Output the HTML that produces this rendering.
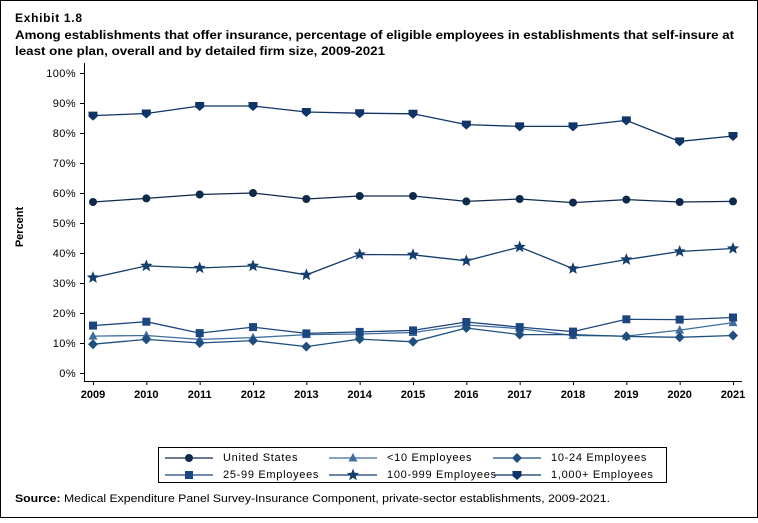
<!DOCTYPE html>
<html><head><meta charset="utf-8"><style>
body{margin:0;background:#fff;font-family:"Liberation Sans",Arial,sans-serif}
svg text{font-family:"Liberation Sans",Arial,sans-serif}
</style></head><body>
<svg id="c" width="758" height="518" xmlns="http://www.w3.org/2000/svg">
<rect x="0.5" y="0.5" width="757" height="517" fill="#fff" stroke="#000"/>
<text x="15" y="22" font-size="12" font-weight="bold" textLength="67">Exhibit 1.8</text>
<text x="15" y="39" font-size="12" font-weight="bold" textLength="719" lengthAdjust="spacingAndGlyphs">Among establishments that offer insurance, percentage of eligible employees in establishments that self-insure at</text>
<text x="15" y="55" font-size="12" font-weight="bold" textLength="370" lengthAdjust="spacingAndGlyphs">least one plan, overall and by detailed firm size, 2009-2021</text>
<text transform="translate(23,227) rotate(-90)" text-anchor="middle" font-size="11" font-weight="bold">Percent</text>
<g id="axes"></g><g id="series"></g>
<rect x="158.5" y="447.5" width="508" height="35" fill="none" stroke="#000"/>
<g id="legend"></g>
<text x="15" y="502" font-size="11" textLength="595" lengthAdjust="spacingAndGlyphs"><tspan font-weight="bold">Source:</tspan> Medical Expenditure Panel Survey-Insurance Component, private-sector establishments, 2009-2021.</text>
</svg>
<script>
const years=[2009,2010,2011,2012,2013,2014,2015,2016,2017,2018,2019,2020,2021];
const yTicks=[0,10,20,30,40,50,60,70,80,90,100];
const usVals=[57.0,58.2,59.5,60.0,58.0,59.0,59.0,57.2,58.0,56.8,57.8,57.0,57.2];
const lt10Vals=[12.3,12.5,11.2,11.8,12.8,13.0,13.5,16.0,14.8,12.5,12.3,14.3,16.8];
const e10to24Vals=[9.6,11.2,10.0,10.8,8.8,11.3,10.4,15.0,12.8,12.8,12.2,11.9,12.5];
const e25to99Vals=[15.8,17.1,13.3,15.3,13.2,13.7,14.2,17.0,15.3,13.8,17.9,17.8,18.5];
const e100to999Vals=[31.8,35.7,35.0,35.7,32.7,39.5,39.4,37.4,42.0,34.8,37.8,40.5,41.5];
const e1000Vals=[85.8,86.5,89.0,89.0,87.0,86.6,86.4,82.8,82.2,82.2,84.2,77.2,79.0];
const seriesNames=["United States","<10 Employees","10-24 Employees","25-99 Employees","100-999 Employees","1,000+ Employees"];
const NS="http://www.w3.org/2000/svg";
const x=v=>93+(v-2009)*(640/12);
const y=v=>373-v*3;
function mk(t,a,p){const e=document.createElementNS(NS,t);for(const k in a)e.setAttribute(k,a[k]);p.appendChild(e);return e;}
const ax=document.getElementById('axes');
let l=mk('line',{x1:84.5,y1:63,x2:84.5,y2:381,stroke:'#000'},ax);


l=mk('line',{x1:84,y1:381.5,x2:742,y2:381.5,stroke:'#000'},ax);


yTicks.forEach(t=>{mk('line',{x1:80,x2:84,y1:y(t)+.5,y2:y(t)+.5,stroke:'#000'},ax);
const tx=mk('text',{x:76,y:y(t)+4,'text-anchor':'end','font-size':11,'letter-spacing':0.4},ax);tx.textContent=t+'%';

});
years.forEach(yr=>{mk('line',{x1:x(yr)+.5,x2:x(yr)+.5,y1:381,y2:385,stroke:'#000'},ax);
const tx=mk('text',{x:x(yr),y:398,'text-anchor':'middle','font-size':11,'font-weight':'bold'},ax);tx.textContent=yr;

});
function marker(type,cx,cy,col,p){
 if(type==='circle')return mk('circle',{cx,cy,r:4,fill:col},p);
 if(type==='square')return mk('rect',{x:cx-4,y:cy-4,width:8,height:8,fill:col},p);
 if(type==='tri')return mk('polygon',{points:`${cx},${cy-5} ${cx-4.5},${cy+3.5} ${cx+4.5},${cy+3.5}`,fill:col},p);
 if(type==='diamond')return mk('polygon',{points:`${cx},${cy-5} ${cx+5},${cy} ${cx},${cy+5} ${cx-5},${cy}`,fill:col},p);
 if(type==='star'){let pts=[];for(let i=0;i<10;i++){const r=i%2?2.8:6.5,a=-Math.PI/2+i*Math.PI/5;pts.push((cx+r*Math.cos(a)).toFixed(1)+','+(cy+r*Math.sin(a)).toFixed(1));}return mk('polygon',{points:pts.join(' '),fill:col},p);}
 if(type==='shield')return mk('polygon',{points:`${cx-4.5},${cy-4} ${cx+4.5},${cy-4} ${cx+4.5},${cy+1} ${cx},${cy+5} ${cx-4.5},${cy+1}`,fill:col},p);
}
const allVals=[usVals,lt10Vals,e10to24Vals,e25to99Vals,e100to999Vals,e1000Vals];
const types=['circle','tri','diamond','square','star','shield'];
const cols=['#0d2a4a','#3f6e9e','#1f4f7f','#1c4680','#143e6e','#0f3468'];
const names=['us','lt10','10-24','25-99','100-999','1000-plus'];
const sg=document.getElementById('series');
allVals.forEach((vals,i)=>{
 const g=mk('g',{},sg);
 
 
 const ln=mk('polyline',{points:vals.map((v,j)=>x(years[j])+','+y(v)).join(' '),fill:'none',stroke:cols[i],'stroke-width':1.3},g);
 
 
 vals.forEach((v,j)=>{const m=marker(types[i],x(years[j]),y(v),cols[i],g);
 
 });
});
const lg=document.getElementById('legend');
seriesNames.forEach((n,i)=>{
 const col=i%3,row=Math.floor(i/3);
 const lx=165+col*164,ly=456+row*17;
 const g=mk('g',{},lg);
 
 
 mk('line',{x1:lx,x2:lx+48,y1:ly+2,y2:ly+2,stroke:cols[i],'stroke-width':1.3},g);
 marker(types[i],lx+24,ly+2,cols[i],g);
 const t=mk('text',{x:lx+58,y:ly+5,'font-size':11,'letter-spacing':0.7},g);t.textContent=n;
});
</script>
</body></html>
